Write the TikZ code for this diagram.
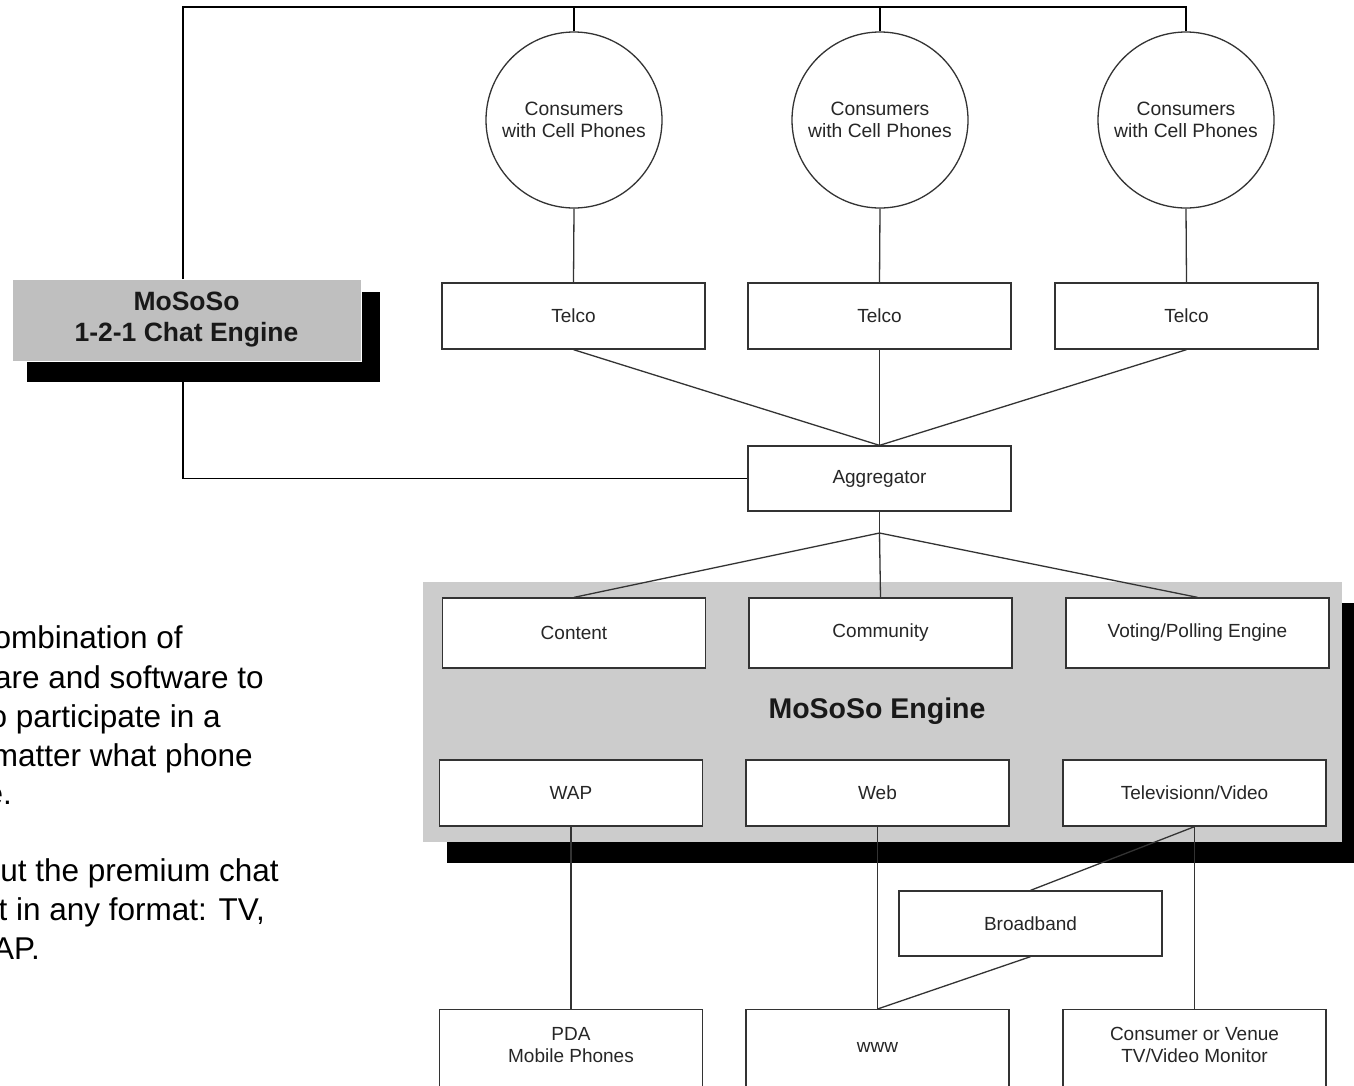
\documentclass[tikz,border=0pt]{standalone}
\usepackage{fontspec}
\setmainfont{Liberation Sans}
\begin{document}
\begin{tikzpicture}[x=1pt,y=-1pt,
  box/.style={draw=black!80, line width=1.3pt, fill=white, minimum width=263pt,
    minimum height=66pt, inner sep=0pt, font=\fontsize{19}{22}\selectfont,
    text=black!85, align=center},
  cons/.style={circle, draw=black!80, line width=1.3pt, fill=white, minimum size=176pt,
    inner sep=0pt, font=\fontsize{19.3}{22}\selectfont, text=black!85, align=center},
  txt/.style={inner sep=0pt, font=\fontsize{19}{22}\selectfont, text=black!85, align=center},
  conn/.style={draw=black!80, line width=1.3pt},
  heavy/.style={draw=black, line width=1.8pt},
  lefttxt/.style={inner sep=0pt, font=\fontsize{31.5}{39}\selectfont, text=black, anchor=base east},
  shadowbox/.style={fill=black, draw=none, inner sep=0pt}
]
\useasboundingbox (0,0) rectangle (1354,1085);
\fill[white] (0,0) rectangle (1354,1085);

% ---- MoSoSo 1-2-1 Chat Engine
\node[shadowbox, minimum width=353pt, minimum height=90pt] (m121s) at (203.5,337) {};
\node[fill=black!25, draw=white, line width=1pt, minimum width=349pt, minimum height=82pt,
  inner sep=0pt, align=center, font=\fontsize{26.5}{31}\selectfont\bfseries, text=black!90]
  (m121) at (186.5,320) {MoSoSo\\1-2-1 Chat Engine};

% ---- Engine background
\node[shadowbox, minimum width=919pt, minimum height=260pt] (engs) at (906,733) {};
\node[fill=black!20, draw=none, minimum width=919pt, minimum height=260pt, inner sep=0pt]
  (eng) at (882.5,712) {};
\node[inner sep=0pt, font=\fontsize{28.5}{32}\selectfont\bfseries, text=black!90]
  (englabel) at (877,711) {MoSoSo Engine};

% ---- Consumers
\node[cons] (c1) at (574,120) {Consumers\\with Cell Phones};
\node[cons] (c2) at (880,120) {Consumers\\with Cell Phones};
\node[cons] (c3) at (1186,120) {Consumers\\with Cell Phones};

% ---- Telcos
\node[box] (t1) at (573.5,316) {Telco};
\node[box] (t2) at (879.5,316) {Telco};
\node[box] (t3) at (1186.5,316) {Telco};

% ---- Aggregator
\node[box, minimum height=65pt] (agg) at (879.5,478.5) {Aggregator};

% ---- Engine boxes
\node[box, minimum height=70pt] (content) at (574,633) {Content};
\node[box, minimum height=70pt] (community) at (880.5,633) {Community};
\node[box, minimum height=70pt] (voting) at (1197.5,633) {Voting/Polling Engine};
\node[box] (wap) at (571,793) {WAP};
\node[box] (web) at (877.5,793) {Web};
\node[box] (tv) at (1194.5,793) {Televisionn/Video};

% ---- Broadband
\node[box, minimum height=65pt] (bb) at (1030.5,923.5) {Broadband};

% ---- bottom devices (cut by the page edge)
\node[box, minimum height=110pt, anchor=north] (pda) at (571,1009) {};
\node[box, minimum height=110pt, anchor=north] (www) at (877.5,1009) {};
\node[box, minimum height=110pt, anchor=north] (mon) at (1194.5,1009) {};
\node[txt] (pdat) at (571,1045) {PDA\\Mobile Phones};
\node[txt] (wwwt) at (877.5,1047) {www};
\node[txt] (mont) at (1194.5,1045) {Consumer or Venue\\TV/Video Monitor};

% ---- top bus
\coordinate (tl) at (183,7);
\coordinate (tr) at (1186,7);
\coordinate (bl) at (183,382);
\coordinate (fork) at (879.5,533);
\draw[heavy] (183,279) -- (tl) -- (tr) -- (c3.north);
\draw[heavy] (c1.north) -- (c1.north |- tl);
\draw[heavy] (c2.north) -- (c2.north |- tl);
\draw[heavy] (bl) |- (agg.west);

% ---- connectors
\draw[conn] (c1.south) -- (t1.north);
\draw[conn] (c2.south) -- (t2.north);
\draw[conn] (c3.south) -- (t3.north);
\draw[conn] (t1.south) -- (agg.north);
\draw[conn] (t2.south) -- (agg.north);
\draw[conn] (t3.south) -- (agg.north);
\draw[conn] (agg.south) -- (fork);
\draw[conn] (fork) -- (content.north);
\draw[conn] (fork) -- (community.north);
\draw[conn] (fork) -- (voting.north);
\draw[conn] (wap.south) -- (pda.north);
\draw[conn] (web.south) -- (www.north);
\draw[conn] (tv.south) -- (mon.north);
\draw[conn] (tv.south) -- (bb.north);
\draw[conn] (bb.south) -- (www.north);

% ---- left text (cut by the page edge, as in the source)
\node[lefttxt] (l1) at (183,648) {ombination of};
\node[lefttxt] (l2) at (264,688) {are and software to};
\node[lefttxt] (l3) at (221,727) {o participate in a};
\node[lefttxt] (l4) at (253,766) {matter what phone};
\node[lefttxt] (l5) at (12,804) {e.};
\node[lefttxt] (l6) at (279,881) {ut the premium chat};
\node[lefttxt] (l7) at (265,920) {t in any format: TV,};
\node[lefttxt] (l8) at (40,959) {AP.};
\end{tikzpicture}
\end{document}
